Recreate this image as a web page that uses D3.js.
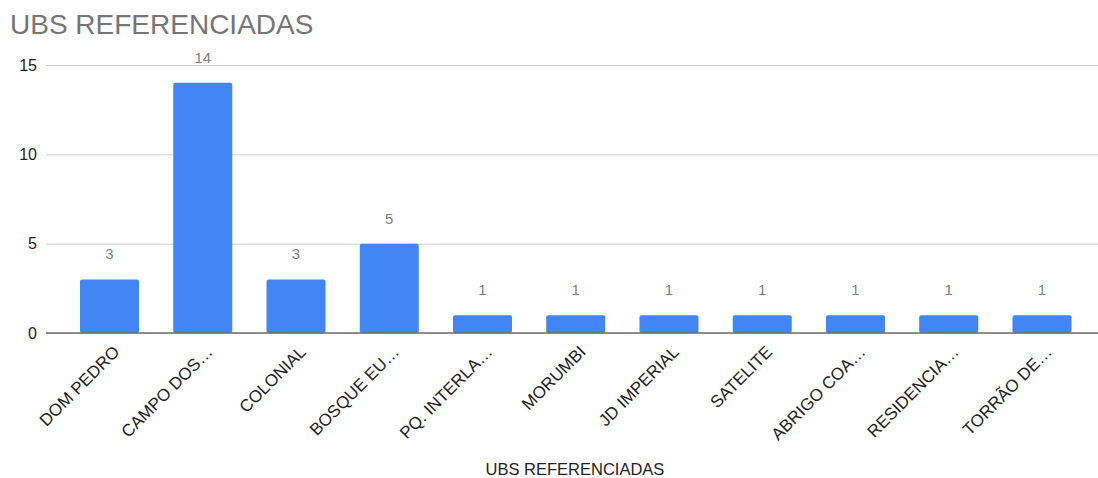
<!DOCTYPE html>
<html>
<head>
<meta charset="utf-8">
<script src="https://cdn.jsdelivr.net/npm/d3@7"></script>
<style>
  html, body { margin: 0; padding: 0; background: #fff; }
  svg { display: block; font-family: "Liberation Sans", Arial, sans-serif; }
</style>
</head>
<body>
<svg id="chart" width="1098" height="478"></svg>
<script>
// Number of referrals per health unit (UBS)
const categories = ["DOM PEDRO", "CAMPO DOS…", "COLONIAL", "BOSQUE EU…", "PQ. INTERLA…",
  "MORUMBI", "JD IMPERIAL", "SATELITE", "ABRIGO COA…", "RESIDENCIA…", "TORRÃO DE…"];
const values = [3, 14, 3, 5, 1, 1, 1, 1, 1, 1, 1];
const yTicks = [0, 5, 10, 15];
const chartTitle = "UBS REFERENCIADAS";
const xAxisTitle = "UBS REFERENCIADAS";

const svg = d3.select("#chart");
const plot = { left: 46, right: 1098, top: 65, bottom: 333 };
const FONT = "\"Liberation Sans\", Arial, sans-serif";

const x = d3.scaleBand()
  .domain(categories)
  .range([62.9, 1088.6])
  .paddingInner(0.367)
  .paddingOuter(0.1835);

const y = d3.scaleLinear()
  .domain([0, 15])
  .range([plot.bottom, plot.top]);

// Title
svg.append("text")
  .attr("x", 10).attr("y", 34)
  .attr("font-size", 28)
  .attr("fill", "#757575")
  .text(chartTitle);

// Horizontal gridlines and y tick labels
const yAxis = d3.axisLeft(y).tickValues(yTicks).tickSize(-(plot.right - plot.left)).tickFormat(d3.format("d"));
const yG = svg.append("g")
  .attr("transform", `translate(${plot.left},0)`)
  .call(yAxis);
yG.select(".domain").remove();
yG.selectAll(".tick line").attr("stroke", "#cccccc").attr("stroke-width", 1);
yG.selectAll(".tick text")
  .attr("x", -9)
  .attr("font-size", 16)
  .attr("font-family", FONT)
  .attr("fill", "#222");

// Bars
svg.append("g").selectAll("rect")
  .data(values)
  .join("rect")
  .attr("x", (d, i) => x(categories[i]))
  .attr("y", d => y(d))
  .attr("width", x.bandwidth())
  .attr("height", d => y(0) - y(d))
  .attr("rx", 2)
  .attr("fill", "#4285f4");

// Baseline
svg.append("line")
  .attr("x1", plot.left).attr("x2", plot.right)
  .attr("y1", y(0)).attr("y2", y(0))
  .attr("stroke", "#6f6f6f").attr("stroke-width", 1.5);

// Value labels
svg.append("g").selectAll("text")
  .data(values)
  .join("text")
  .attr("x", (d, i) => x(categories[i]) + x.bandwidth() / 2)
  .attr("y", d => y(d) - 20)
  .attr("text-anchor", "middle")
  .attr("font-size", 15)
  .attr("fill", "#808080")
  .text(d => d);

// Category labels, rotated
const xG = svg.append("g")
  .attr("transform", `translate(0,${plot.bottom})`)
  .call(d3.axisBottom(x).tickSize(0).tickPadding(0));
xG.select(".domain").remove();
xG.selectAll(".tick text")
  .attr("font-size", 17)
  .attr("font-family", FONT)
  .attr("fill", "#222")
  .attr("text-anchor", "end")
  .attr("dy", 0)
  .attr("y", 0)
  .attr("transform", "translate(11,20) rotate(-45)");

// X axis title
svg.append("text")
  .attr("x", 575).attr("y", 475)
  .attr("text-anchor", "middle")
  .attr("font-size", 16.5)
  .attr("fill", "#222")
  .text(xAxisTitle);
</script>
</body>
</html>
